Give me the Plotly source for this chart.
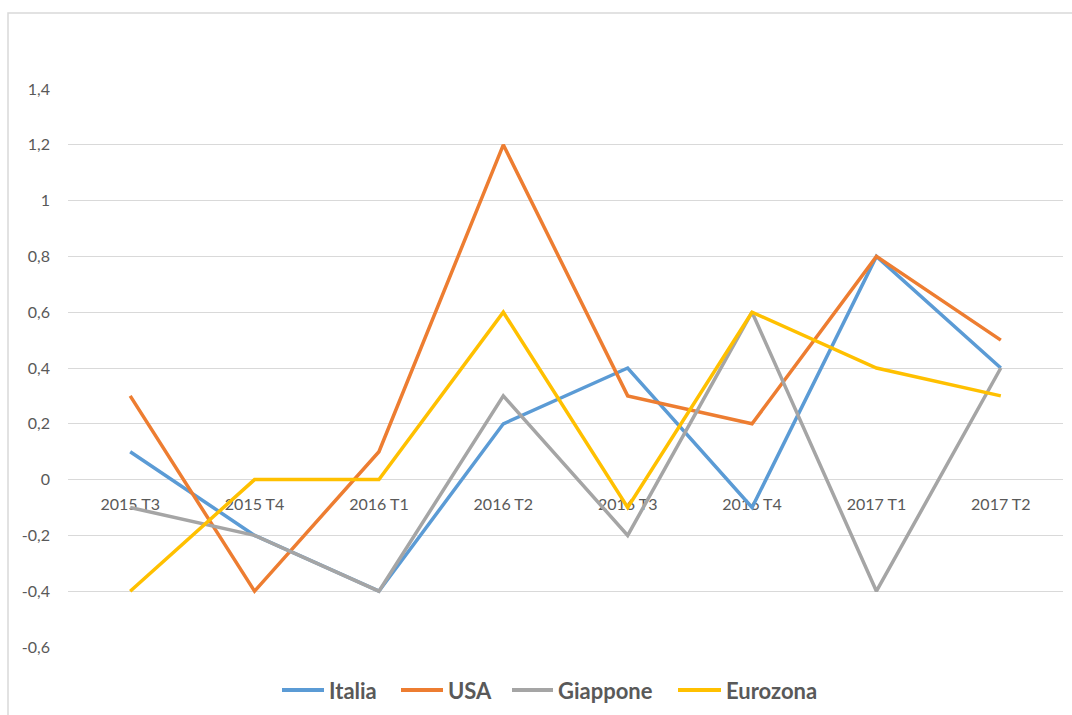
import plotly.graph_objects as go

categories = ["2015 T3", "2015 T4", "2016 T1", "2016 T2", "2016 T3", "2016 T4", "2017 T1", "2017 T2"]
italia = [0.1, -0.2, -0.4, 0.2, 0.4, -0.1, 0.8, 0.4]
usa = [0.3, -0.4, 0.1, 1.2, 0.3, 0.2, 0.8, 0.5]
giappone = [-0.1, -0.2, -0.4, 0.3, -0.2, 0.6, -0.4, 0.4]
eurozona = [-0.4, 0.0, 0.0, 0.6, -0.1, 0.6, 0.4, 0.3]

ytick_vals = [-0.6, -0.4, -0.2, 0, 0.2, 0.4, 0.6, 0.8, 1, 1.2, 1.4]
ytick_text = ["-0,6", "-0,4", "-0,2", "0", "0,2", "0,4", "0,6", "0,8", "1", "1,2", "1,4"]

series = [
    ("Italia", italia, "#5B9BD5"),
    ("USA", usa, "#ED7D31"),
    ("Giappone", giappone, "#A5A5A5"),
    ("Eurozona", eurozona, "#FFC000"),
]

W, H = 1072, 715
ML, MR, MT, MB = 68, 9, 89, 68
pw = W - ML - MR
ph = H - MT - MB

def px_x(p):
    return (p - ML) / pw

def px_y(p):
    return (H - MB - p) / ph

fig = go.Figure()
for name, vals, color in series:
    fig.add_trace(go.Scatter(x=categories, y=vals, name=name, mode="lines",
                             line=dict(color=color, width=3.5), showlegend=False))

# manual legend (swatch start pixel, text start pixel)
legend_pos = [(282, 327), (401, 446), (512, 556), (678, 724)]
legend_y = 690
shapes = [dict(type="rect", xref="paper", yref="paper",
               x0=px_x(8), x1=px_x(1085), y0=px_y(730), y1=px_y(13),
               line=dict(color="#D9D9D9", width=1.5), fillcolor="rgba(0,0,0,0)", layer="below")]
annotations = []
for (name, vals, color), (sx, tx) in zip(series, legend_pos):
    shapes.append(dict(type="line", xref="paper", yref="paper",
                       x0=px_x(sx), x1=px_x(tx - 3), y0=px_y(legend_y), y1=px_y(legend_y),
                       line=dict(color=color, width=4)))
    annotations.append(dict(xref="paper", yref="paper", x=px_x(tx), y=px_y(legend_y),
                            xanchor="left", yanchor="middle", showarrow=False, text=name,
                            font=dict(size=22, color="#595959", family="Lato", weight="bold")))

fig.update_layout(
    width=W, height=H,
    margin=dict(l=ML, r=MR, t=MT, b=MB),
    plot_bgcolor="white", paper_bgcolor="white",
    font=dict(family="Lato", color="#595959", size=16),
    showlegend=False,
    xaxis=dict(type="category", range=[-0.5, 7.5], showgrid=False, showline=False, zeroline=False,
               anchor="free", position=0.3, ticks="", ticklabelstandoff=13,
               tickfont=dict(size=16, color="#595959"), layer="below traces"),
    yaxis=dict(range=[-0.6, 1.4], tickvals=ytick_vals, ticktext=ytick_text,
               showgrid=True, gridcolor="#D9D9D9", gridwidth=1, zeroline=False, showline=False,
               ticks="", ticklabelstandoff=17, tickfont=dict(size=16, color="#595959"),
               layer="below traces"),
    shapes=shapes,
    annotations=annotations,
)

fig.write_html("out.html")
